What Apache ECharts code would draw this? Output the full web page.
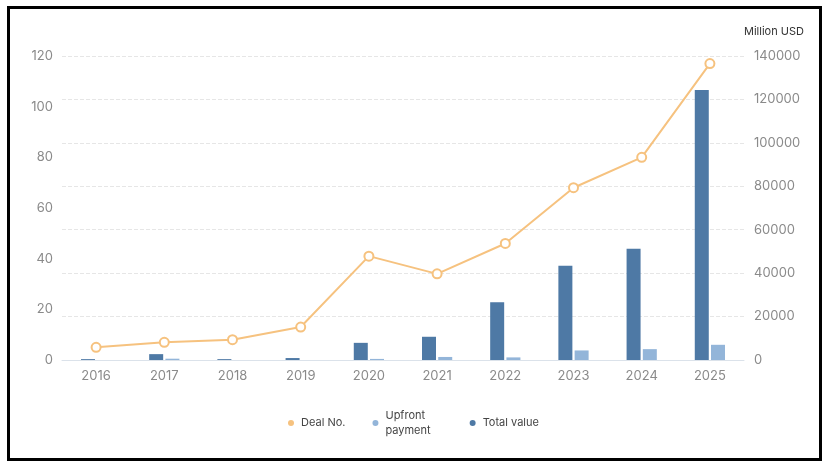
<!DOCTYPE html>
<html><head><meta charset="utf-8">
<script src="https://cdn.jsdelivr.net/npm/echarts@6/dist/echarts.min.js"></script>
<style>html,body{margin:0;padding:0;background:#fff}#c{width:830px;height:469px}</style>
</head><body><div id="c"></div>
<script>
const years = ['2016','2017','2018','2019','2020','2021','2022','2023','2024','2025'];
const dealNo = [5, 7, 8, 13, 41, 34, 46, 68, 80, 117];
const upfrontPayment = [0, 600, 0, 0, 500, 1400, 1200, 4400, 5000, 7000];
const totalValue = [400, 2700, 400, 900, 7900, 10700, 26600, 43400, 51200, 124300];
const leftTicks = {min: 0, max: 120, interval: 20};
const rightTicks = {min: 0, max: 140000, interval: 20000};

const chart = echarts.init(document.getElementById('c'));
const gray = '#8a8a8a';
const orange = '#f6c27f';
chart.setOption({
  animation: false,
  textStyle: {fontFamily: 'Inter'},
  graphic: [{type: 'rect', shape: {x: 8.5, y: 7.5, width: 812, height: 452}, style: {fill: 'none', stroke: '#000', lineWidth: 3}}],
  grid: {left: 62, right: 86, top: 56, bottom: 109},
  legend: {
    data: [
      {name: 'Deal No.', itemStyle: {color: orange, borderWidth: 0}},
      {name: 'Upfront\npayment', textStyle: {padding: [0, 12, 0, 2]}},
      {name: 'Total value'}
    ],
    top: 403, left: 283,
    icon: 'circle', itemWidth: 6, itemHeight: 6, itemGap: 27,
    textStyle: {color: '#444', fontSize: 11, lineHeight: 15, padding: [0, 0, 0, 2], fontFamily: 'Inter'}
  },
  xAxis: {
    type: 'category', data: years,
    axisLine: {lineStyle: {color: '#dbe2ea'}},
    axisTick: {show: false},
    axisLabel: {color: gray, fontSize: 13, margin: 10}
  },
  yAxis: [{
    type: 'value', position: 'left', min: leftTicks.min, max: leftTicks.max, interval: leftTicks.interval,
    splitLine: {show: false}, axisLine: {show: false}, axisTick: {show: false},
    axisLabel: {color: gray, fontSize: 13, margin: 9}
  }, {
    type: 'value', position: 'right', min: rightTicks.min, max: rightTicks.max, interval: rightTicks.interval,
    name: 'Million USD', nameLocation: 'end', nameGap: 19,
    nameTextStyle: {color: '#333', fontSize: 11, align: 'left'},
    splitLine: {lineStyle: {type: 'dashed', color: '#e6e6e6'}},
    axisLine: {show: false}, axisTick: {show: false},
    axisLabel: {color: gray, fontSize: 13, margin: 10, formatter: v => String(v)}
  }],
  series: [{
    name: 'Total value', type: 'bar', yAxisIndex: 1, data: totalValue,
    barWidth: 14, barGap: '16%', itemStyle: {color: '#4e79a5'}
  }, {
    name: 'Upfront\npayment', type: 'bar', yAxisIndex: 1, data: upfrontPayment,
    barWidth: 14, barGap: '16%', itemStyle: {color: '#93b5d9'}
  }, {
    name: 'Deal No.', type: 'line', yAxisIndex: 0, data: dealNo,
    symbol: 'circle', symbolSize: 9,
    lineStyle: {color: orange, width: 2},
    itemStyle: {color: '#fff', borderColor: orange, borderWidth: 2}
  }]
});
</script></body></html>
